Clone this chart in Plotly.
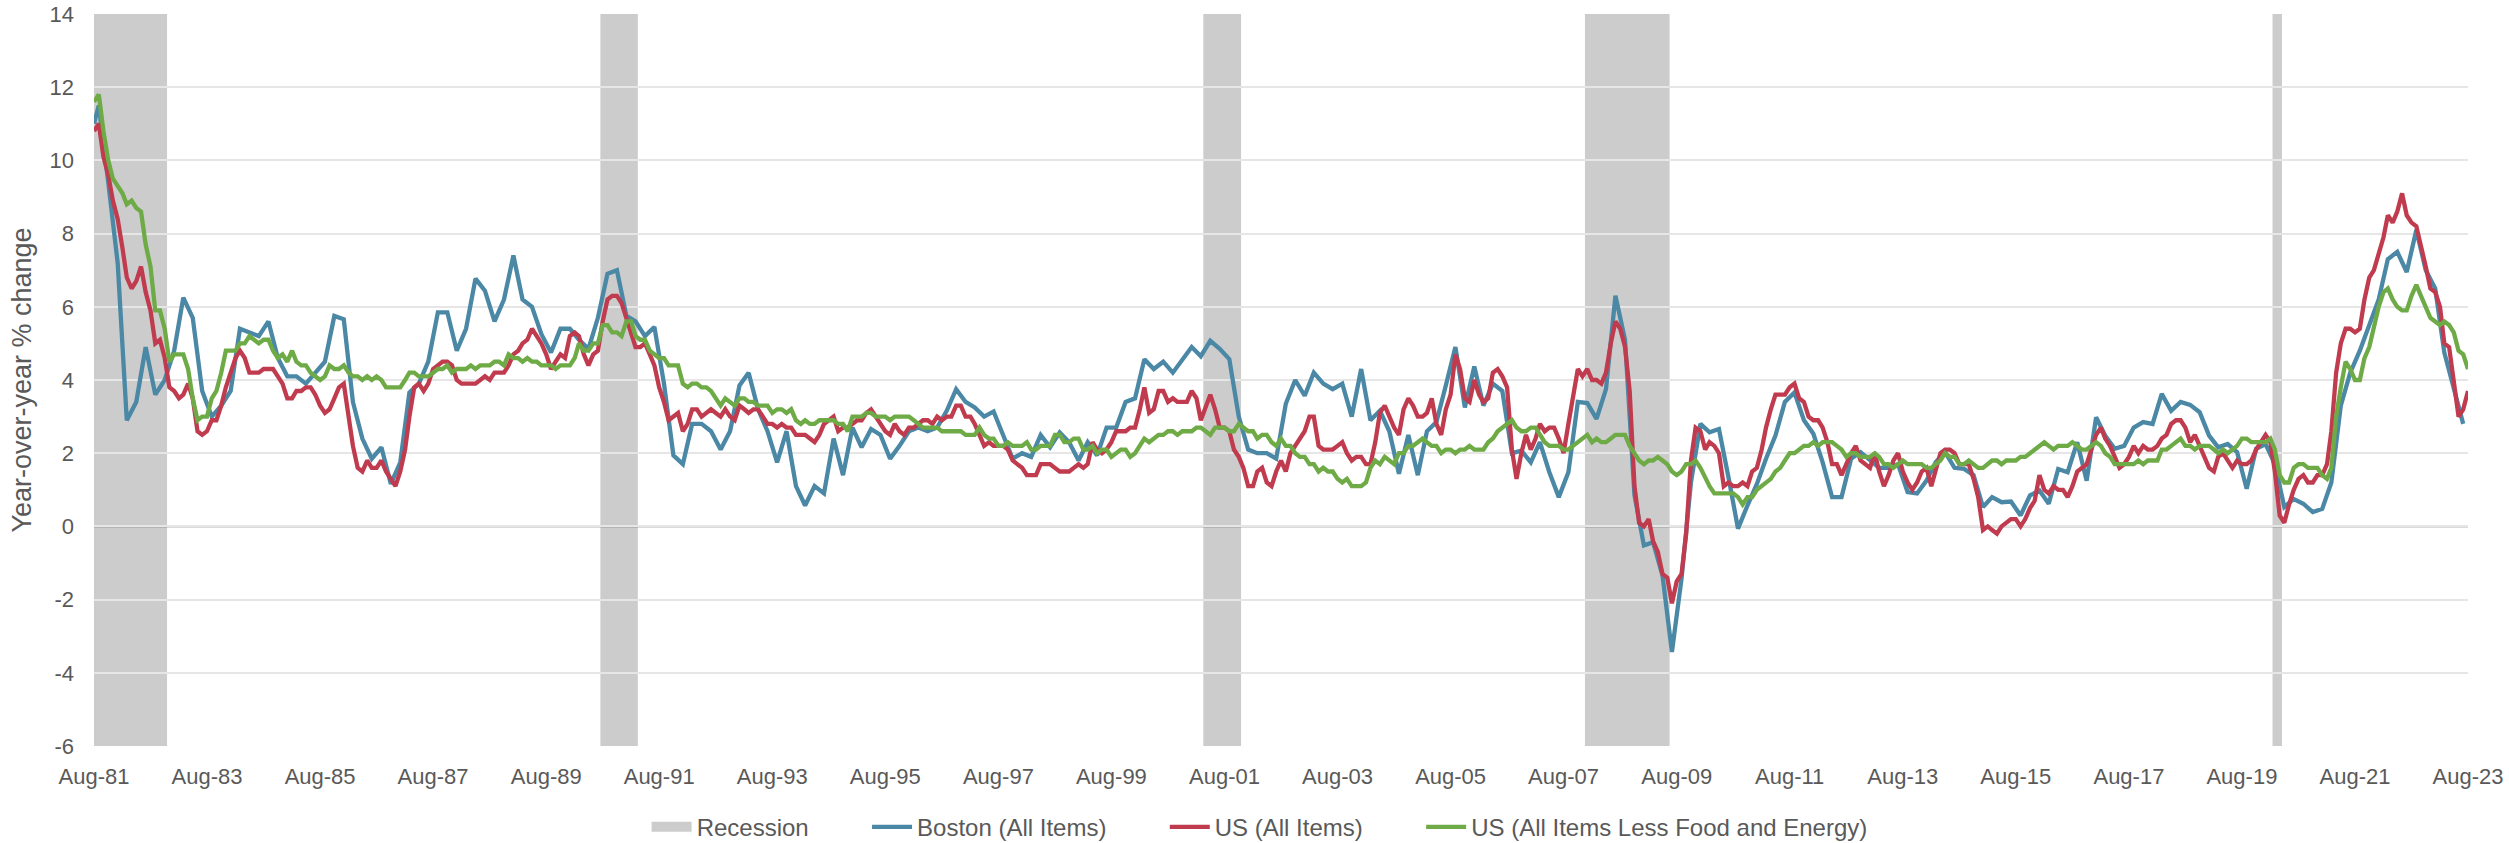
import pandas as pd
import plotly.graph_objects as go

# ---------------- data ----------------
# Monthly, Aug-1981 .. Aug-2023
us_all = [
    10.8, 11.0, 10.1, 9.6, 8.9,
    8.4, 7.6, 6.8, 6.5, 6.7, 7.1, 6.4, 5.9, 5.0, 5.1, 4.6, 3.8,
    3.7, 3.5, 3.6, 3.9, 3.5, 2.6, 2.5, 2.6, 2.9, 2.9, 3.3, 3.8,
    4.2, 4.6, 4.8, 4.6, 4.2, 4.2, 4.2, 4.3, 4.3, 4.3, 4.1, 3.9,
    3.5, 3.5, 3.7, 3.7, 3.8, 3.8, 3.6, 3.3, 3.1, 3.2, 3.5, 3.8,
    3.9, 3.1, 2.2, 1.6, 1.5, 1.8, 1.6, 1.6, 1.8, 1.5, 1.3, 1.1,
    1.5, 2.1, 3.0, 3.8, 3.9, 3.7, 3.9, 4.3, 4.4, 4.5, 4.5, 4.4,
    4.0, 3.9, 3.9, 3.9, 3.9, 4.0, 4.1, 4.0, 4.2, 4.2, 4.2, 4.4,
    4.7, 4.8, 5.0, 5.1, 5.4, 5.2, 5.0, 4.7, 4.3, 4.5, 4.7, 4.6,
    5.2, 5.3, 5.2, 4.7, 4.4, 4.7, 4.8, 5.6, 6.2, 6.3, 6.3, 6.1,
    5.7, 5.3, 4.9, 4.9, 5.0, 4.7, 4.4, 3.8, 3.4, 2.9, 3.0, 3.1,
    2.6, 2.8, 3.2, 3.2, 3.0, 3.1, 3.2, 3.1, 3.0, 3.2, 3.0, 2.9,
    3.3, 3.2, 3.1, 3.2, 3.2, 3.0, 2.8, 2.8, 2.7, 2.8, 2.7, 2.7,
    2.5, 2.5, 2.5, 2.4, 2.3, 2.5, 2.8, 2.9, 3.0, 2.6, 2.7, 2.7,
    2.8, 2.9, 2.9, 3.1, 3.2, 3.0, 2.8, 2.6, 2.5, 2.8, 2.6, 2.5,
    2.7, 2.7, 2.8, 2.9, 2.9, 2.8, 3.0, 2.9, 3.0, 3.0, 3.3, 3.3,
    3.0, 3.0, 2.8, 2.5, 2.2, 2.3, 2.2, 2.2, 2.2, 2.1, 1.8, 1.7,
    1.6, 1.4, 1.4, 1.4, 1.7, 1.7, 1.7, 1.6, 1.5, 1.5, 1.5, 1.6,
    1.7, 1.6, 1.7, 2.3, 2.1, 2.0, 2.1, 2.3, 2.6, 2.6, 2.6, 2.7,
    2.7, 3.2, 3.8, 3.1, 3.2, 3.7, 3.7, 3.4, 3.5, 3.4, 3.4, 3.4,
    3.7, 3.5, 2.9, 3.3, 3.6, 3.2, 2.7, 2.7, 2.6, 2.1, 1.9, 1.6,
    1.1, 1.1, 1.5, 1.6, 1.2, 1.1, 1.5, 1.8, 1.5, 2.0, 2.2, 2.4,
    2.6, 3.0, 3.0, 2.2, 2.1, 2.1, 2.1, 2.2, 2.3, 2.0, 1.8, 1.9,
    1.9, 1.7, 1.7, 2.3, 3.1, 3.3, 3.0, 2.7, 2.5, 3.2, 3.5, 3.3,
    3.0, 3.0, 3.1, 3.5, 2.8, 2.5, 3.2, 3.6, 4.7, 4.3, 3.5, 3.4,
    4.0, 3.6, 3.4, 3.5, 4.2, 4.3, 4.1, 3.8, 2.1, 1.3, 2.0, 2.5,
    2.1, 2.4, 2.8, 2.6, 2.7, 2.7, 2.4, 2.0, 2.8, 3.5, 4.3, 4.1,
    4.3, 4.0, 4.0, 3.9, 4.2, 5.0, 5.6, 5.4, 4.9, 3.7, 1.1, 0.1,
    0.0, 0.2, -0.4, -0.7, -1.3, -1.4, -2.1, -1.5, -1.3, -0.2, 1.8, 2.7,
    2.6, 2.1, 2.3, 2.2, 2.0, 1.1, 1.2, 1.1, 1.1, 1.2, 1.1, 1.5,
    1.6, 2.1, 2.7, 3.2, 3.6, 3.6, 3.6, 3.8, 3.9, 3.5, 3.4, 3.0,
    2.9, 2.9, 2.7, 2.3, 1.7, 1.7, 1.4, 1.7, 2.0, 2.2, 1.8, 1.7,
    1.6, 2.0, 1.5, 1.1, 1.4, 1.8, 2.0, 1.5, 1.2, 1.0, 1.2, 1.5,
    1.6, 1.1, 1.5, 2.0, 2.1, 2.1, 2.0, 1.7, 1.7, 1.7, 1.3, 0.8,
    -0.1, 0.0, -0.1, -0.2, 0.0, 0.1, 0.2, 0.2, 0.0, 0.2, 0.5, 0.7,
    1.4, 1.0, 0.9, 1.1, 1.0, 1.0, 0.8, 1.1, 1.5, 1.6, 1.7, 2.1,
    2.5, 2.7, 2.4, 2.2, 1.9, 1.6, 1.7, 1.9, 2.2, 2.0, 2.2, 2.1,
    2.1, 2.2, 2.4, 2.5, 2.8, 2.9, 2.9, 2.7, 2.3, 2.5, 2.2, 1.9,
    1.6, 1.5, 1.9, 2.0, 1.8, 1.6, 1.8, 1.7, 1.7, 1.8, 2.1, 2.3,
    2.5, 2.3, 1.5, 0.3, 0.1, 0.6, 1.0, 1.3, 1.4, 1.2, 1.2, 1.4,
    1.4, 1.7, 2.6, 4.2, 5.0, 5.4, 5.4, 5.3, 5.4, 6.2, 6.8, 7.0,
    7.5, 7.9, 8.5, 8.3, 8.6, 9.1, 8.5, 8.3, 8.2, 7.7, 7.1, 6.5,
    6.4, 6.0, 5.0, 4.9, 4.0, 3.0, 3.2, 3.7,
]

us_core = [
    11.6, 11.8, 10.8, 10.0, 9.5,
    9.3, 9.1, 8.8, 8.9, 8.7, 8.6, 7.7, 7.1, 5.9, 5.9, 5.4, 4.5,
    4.7, 4.7, 4.7, 4.3, 3.5, 2.9, 3.0, 3.0, 3.5, 3.7, 4.2, 4.8,
    4.8, 4.8, 5.0, 5.0, 5.2, 5.1, 5.0, 5.1, 5.1, 4.8, 4.6, 4.7,
    4.5, 4.8, 4.5, 4.4, 4.4, 4.2, 4.1, 4.0, 4.1, 4.4, 4.3, 4.3,
    4.4, 4.2, 4.1, 4.1, 4.0, 4.1, 4.0, 4.1, 4.0, 3.8, 3.8, 3.8,
    3.8, 4.0, 4.2, 4.2, 4.1, 4.1, 4.1, 4.2, 4.3, 4.3, 4.4, 4.2,
    4.3, 4.3, 4.3, 4.4, 4.3, 4.4, 4.4, 4.4, 4.5, 4.5, 4.4, 4.7,
    4.6, 4.6, 4.5, 4.6, 4.5, 4.5, 4.4, 4.4, 4.4, 4.3, 4.4, 4.4,
    4.4, 4.6, 5.0, 4.8, 4.8, 5.0, 5.0, 5.5, 5.5, 5.3, 5.3, 5.2,
    5.6, 5.6, 5.2, 5.1, 5.1, 4.8, 4.7, 4.6, 4.6, 4.4, 4.4, 4.4,
    3.9, 3.8, 3.9, 3.9, 3.8, 3.8, 3.7, 3.5, 3.3, 3.5, 3.4, 3.3,
    3.5, 3.5, 3.4, 3.4, 3.3, 3.3, 3.3, 3.1, 3.2, 3.2, 3.1, 3.2,
    2.9, 2.8, 2.9, 2.8, 2.8, 2.9, 2.9, 2.9, 2.9, 2.8, 2.8, 2.6,
    3.0, 3.0, 3.0, 3.1, 3.1, 3.0, 3.0, 3.0, 2.9, 3.0, 3.0, 3.0,
    3.0, 2.9, 2.8, 2.7, 2.7, 2.7, 2.7, 2.6, 2.6, 2.6, 2.6, 2.6,
    2.5, 2.5, 2.5, 2.7, 2.5, 2.4, 2.4, 2.2, 2.2, 2.3, 2.2, 2.2,
    2.2, 2.3, 2.1, 2.1, 2.2, 2.2, 2.2, 2.5, 2.5, 2.3, 2.3, 2.4,
    2.4, 2.1, 2.1, 2.2, 2.0, 2.1, 2.1, 1.9, 2.0, 2.1, 2.1, 1.9,
    2.0, 2.2, 2.4, 2.3, 2.4, 2.5, 2.5, 2.6, 2.6, 2.5, 2.6, 2.6,
    2.6, 2.7, 2.7, 2.6, 2.5, 2.7, 2.7, 2.7, 2.6, 2.6, 2.8, 2.7,
    2.6, 2.6, 2.4, 2.5, 2.5, 2.3, 2.2, 2.4, 2.2, 2.2, 2.0, 1.9,
    1.9, 1.7, 1.7, 1.5, 1.6, 1.5, 1.5, 1.3, 1.2, 1.3, 1.1, 1.1,
    1.1, 1.2, 1.6, 1.8, 1.7, 1.9, 1.8, 1.7, 2.0, 2.0, 2.2, 2.2,
    2.3, 2.4, 2.3, 2.2, 2.2, 2.0, 2.1, 2.1, 2.0, 2.1, 2.1, 2.2,
    2.1, 2.1, 2.1, 2.3, 2.4, 2.6, 2.7, 2.8, 2.9, 2.7, 2.6, 2.6,
    2.7, 2.7, 2.5, 2.3, 2.2, 2.2, 2.2, 2.1, 2.1, 2.2, 2.3, 2.4,
    2.5, 2.3, 2.4, 2.3, 2.3, 2.4, 2.5, 2.5, 2.5, 2.2, 2.0, 1.8,
    1.7, 1.8, 1.8, 1.9, 1.8, 1.7, 1.5, 1.4, 1.5, 1.7, 1.7, 1.8,
    1.6, 1.3, 1.1, 0.9, 0.9, 0.9, 0.9, 0.9, 0.8, 0.6, 0.8, 0.8,
    1.0, 1.1, 1.2, 1.3, 1.5, 1.6, 1.8, 2.0, 2.0, 2.1, 2.2, 2.2,
    2.3, 2.2, 2.3, 2.3, 2.3, 2.2, 2.1, 1.9, 2.0, 2.0, 1.9, 1.9,
    1.9, 2.0, 1.9, 1.7, 1.7, 1.6, 1.7, 1.8, 1.7, 1.7, 1.7, 1.7,
    1.6, 1.6, 1.7, 1.8, 2.0, 1.9, 1.9, 1.7, 1.7, 1.8, 1.7, 1.6,
    1.6, 1.7, 1.8, 1.8, 1.7, 1.8, 1.8, 1.8, 1.9, 1.9, 2.0, 2.1,
    2.2, 2.3, 2.2, 2.1, 2.2, 2.2, 2.2, 2.3, 2.2, 2.1, 2.1, 2.2,
    2.3, 2.2, 2.0, 1.9, 1.7, 1.7, 1.7, 1.7, 1.7, 1.8, 1.7, 1.8,
    1.8, 1.8, 2.1, 2.1, 2.2, 2.3, 2.4, 2.2, 2.2, 2.1, 2.2, 2.2,
    2.2, 2.1, 2.0, 2.1, 2.0, 2.1, 2.2, 2.4, 2.4, 2.3, 2.3, 2.3,
    2.3, 2.4, 2.1, 1.4, 1.2, 1.2, 1.6, 1.7, 1.7, 1.6, 1.6, 1.6,
    1.4, 1.3, 1.6, 3.0, 3.8, 4.5, 4.3, 4.0, 4.0, 4.6, 4.9, 5.5,
    6.0, 6.4, 6.5, 6.2, 6.0, 5.9, 5.9, 6.3, 6.6, 6.3, 6.0, 5.7,
    5.6, 5.5, 5.6, 5.5, 5.3, 4.8, 4.7, 4.3,
]

# Boston: Aug-81, Sep-81, Nov-81, then bimonthly (odd months) Jan-82 .. Jul-23
boston_early_dates = ["1981-08-01", "1981-09-01", "1981-11-01"]
boston_early = [11.0, 11.5, 9.4]
boston_bimonthly = [
    7.2, 2.9, 3.4, 4.9, 3.6, 4.0,
    4.8, 6.25, 5.7, 3.7, 3.0, 3.3,
    3.7, 5.4, 5.3, 5.2, 5.6, 4.6,
    4.1, 4.1, 3.9, 4.2, 4.5, 5.75,
    5.66, 3.4, 2.4, 1.85, 2.16, 1.16,
    1.75, 3.66, 3.9, 4.5, 5.85, 5.85,
    4.8, 5.4, 6.77, 6.44, 5.6, 6.2,
    7.4, 6.2, 6.0, 5.25, 4.75, 5.4,
    5.4, 5.1, 4.85, 5.7, 6.9, 7.0,
    5.75, 5.6, 5.2, 5.45, 3.9, 1.94,
    1.7, 2.8, 2.8, 2.6, 2.1, 2.6,
    3.85, 4.2, 3.2, 2.6, 1.75, 2.6,
    1.1, 0.57, 1.1, 0.9, 2.4, 1.4,
    2.7, 2.16, 2.66, 2.5, 1.85, 2.2,
    2.6, 2.7, 2.6, 2.7, 3.16, 3.75,
    3.4, 3.25, 3.0, 3.14, 2.5, 1.85,
    2.0, 1.9, 2.5, 2.16, 2.57, 2.3,
    1.8, 2.3, 1.94, 2.7, 2.7, 3.4,
    3.5, 4.57, 4.3, 4.5, 4.2, 4.57,
    4.9, 4.65, 5.07, 4.85, 4.57, 3.0,
    2.1, 2.0, 2.0, 1.85, 3.35, 4.0,
    3.57, 4.2, 3.9, 3.75, 3.9, 3.0,
    4.3, 2.9, 3.16, 2.6, 1.44, 2.5,
    1.4, 2.6, 2.85, 3.85, 4.9, 3.25,
    4.37, 3.3, 3.9, 3.7, 2.0, 2.07,
    1.75, 2.3, 1.48, 0.8, 1.48, 3.4,
    3.37, 2.94, 3.75, 6.3, 5.1, 0.85,
    -0.52, -0.43, -1.34, -3.43, -1.43, 1.2,
    2.8, 2.57, 2.66, 1.35, -0.06, 0.57,
    1.16, 1.85, 2.48, 3.4, 3.66, 2.9,
    2.53, 1.75, 0.8, 0.8, 1.85, 2.03,
    1.8, 1.6, 1.6, 1.7, 0.94, 0.9,
    1.25, 1.75, 2.03, 1.6, 1.57, 1.4,
    0.53, 0.8, 0.66, 0.68, 0.3, 0.85,
    0.98, 0.62, 1.57, 1.48, 2.3, 1.25,
    2.98, 2.48, 2.12, 2.2, 2.7, 2.85,
    2.8, 3.62, 3.16, 3.4, 3.32, 3.12,
    2.48, 2.16, 2.25, 2.03, 1.03, 2.12,
    2.25, 1.7, 0.53, 0.75, 0.62, 0.39,
    0.48, 1.2, 3.3, 4.2, 4.8, 5.5,
    6.2, 7.3, 7.5, 6.95, 8.1, 7.0,
    6.5, 4.75, 3.75, 2.8,
]

# NBER recession months (first and last month shaded)
rec_start = ["1981-08", "1990-08", "2001-04", "2008-01", "2020-03"]
rec_end = ["1982-11", "1991-03", "2001-11", "2009-06", "2020-04"]

y_ticks = [14, 12, 10, 8, 6, 4, 2, 0, -2, -4, -6]

series_names = ["Recession", "Boston (All Items)", "US (All Items)",
                "US (All Items Less Food and Energy)"]

# ---------------- build ----------------
months = pd.date_range("1981-08-01", "2023-08-01", freq="MS")
boston_dates = boston_early_dates + list(
    pd.date_range("1982-01-01", "2023-07-01", freq="2MS").strftime("%Y-%m-%d"))
boston = boston_early + boston_bimonthly
assert len(us_all) == len(months) == len(us_core)
assert len(boston) == len(boston_dates)

C_BOS = "#4A88A6"
C_US = "#C13B4F"
C_CORE = "#6EAB47"
C_REC = "#CCCCCC"
TXT = "#595959"
FONT = "Liberation Sans, Arial, sans-serif"
PAD = "\u00a0" * 8  # spacing between legend entries

fig = go.Figure()
fig.add_trace(go.Scatter(x=[None], y=[None], mode="lines", name=series_names[0] + PAD,
                         line=dict(color=C_REC, width=13)))
fig.add_trace(go.Scatter(x=boston_dates, y=boston, mode="lines",
                         name=series_names[1] + PAD, line=dict(color=C_BOS, width=4.3)))
fig.add_trace(go.Scatter(x=months, y=us_all, mode="lines",
                         name=series_names[2] + PAD, line=dict(color=C_US, width=4.3)))
fig.add_trace(go.Scatter(x=months, y=us_core, mode="lines",
                         name=series_names[3], line=dict(color=C_CORE, width=4.3)))

shapes = []
half = pd.Timedelta(days=15)
for s, e in zip(rec_start, rec_end):
    shapes.append(dict(type="rect", xref="x", yref="paper",
                       x0=pd.Timestamp(s + "-01") - half, x1=pd.Timestamp(e + "-01") + half,
                       y0=0, y1=1, fillcolor=C_REC, line=dict(width=0), layer="between"))
shapes.append(dict(type="line", xref="paper", yref="y", x0=0, x1=1, y0=0, y1=0,
                   line=dict(color="#6E6E6E", width=1.6), layer="between"))

fig.update_layout(
    width=2509, height=843,
    margin=dict(l=94, r=41, t=14, b=97, autoexpand=False),
    paper_bgcolor="white", plot_bgcolor="white",
    font=dict(family=FONT, color=TXT, size=22),
    shapes=shapes,
    showlegend=True,
    legend=dict(orientation="h", x=0.491, xanchor="center", y=-0.111, yanchor="middle",
                font=dict(size=24, color=TXT), itemwidth=40, traceorder="normal",
                bgcolor="rgba(0,0,0,0)"),
    hovermode=False,
)
fig.update_xaxes(
    range=["1981-08-01", "2023-08-01"], type="date",
    tick0="1981-08-01", dtick="M24", tickformat="%b-%y",
    showgrid=False, zeroline=False, showline=False, ticks="", automargin=False,
    tickfont=dict(size=22, color=TXT), ticklabelstandoff=15,
)
fig.update_yaxes(
    range=[-6, 14], tickvals=y_ticks, ticktext=[str(v) for v in y_ticks],
    showgrid=True, gridcolor="#E6E6E6", gridwidth=1.5,
    zeroline=False, showline=False, ticks="", automargin=False,
    tickfont=dict(size=22, color=TXT), ticklabelstandoff=19,
    title=dict(text="Year-over-year % change", font=dict(size=27, color=TXT), standoff=10),
)

fig.write_html("out.html", config={"displayModeBar": False},
               post_script="document.body.style.margin='0';document.body.style.overflow='hidden';")
